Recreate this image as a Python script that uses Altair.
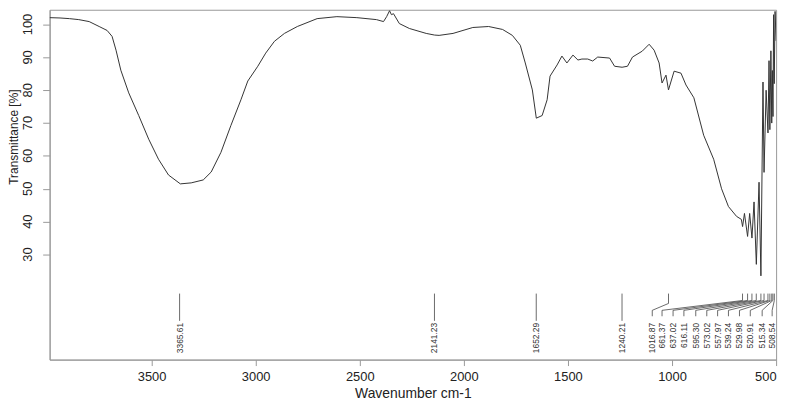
import altair as alt
import pandas as pd

# Spectrum (wavenumber cm-1, transmittance %)
wn = [3990, 3940, 3895, 3850, 3800, 3752, 3714, 3690, 3671, 3648,
      3610, 3562, 3514, 3467, 3419, 3362, 3310, 3252, 3214, 3167,
      3119, 3071, 3038, 2990, 2952, 2910, 2862, 2800, 2705, 2610,
      2514, 2420, 2386, 2371, 2357, 2348, 2338, 2310, 2262, 2181,
      2141, 2119, 2052, 1957, 1881, 1814, 1767, 1729, 1705, 1671,
      1652, 1624, 1600, 1586, 1552, 1529, 1505, 1476, 1452, 1433,
      1405, 1381, 1357, 1300, 1276, 1240, 1214, 1190, 1143, 1110,
      1086, 1062, 1048, 1029, 1017, 990, 957, 933, 895, 848,
      800, 762, 729, 690, 667, 661, 652, 637, 627, 616,
      606, 595, 582, 573, 563, 558, 548, 539, 534, 530,
      525, 521, 518, 515, 512, 509, 505, 500]
trans = [102.1, 102.0, 101.8, 101.5, 100.9, 99.4, 98.2, 96.4, 92.2, 86.1,
         79.2, 72.3, 65.1, 59.0, 54.2, 51.5, 51.8, 52.7, 55.1, 61.1,
         69.3, 77.1, 82.8, 87.3, 91.3, 94.9, 97.3, 99.4, 101.8, 102.4,
         102.1, 101.5, 100.9, 102.4, 104.2, 103.0, 103.3, 100.3, 98.8, 97.3,
         96.8, 96.7, 97.3, 99.1, 99.4, 98.5, 96.7, 93.7, 88.3, 80.1,
         71.5, 72.3, 77.1, 84.3, 87.7, 90.4, 88.3, 90.7, 89.2, 89.5,
         89.5, 88.9, 90.1, 89.8, 87.3, 87.0, 87.3, 90.1, 91.9, 94.0,
         92.2, 88.3, 82.2, 84.6, 80.1, 85.8, 85.2, 81.6, 77.7, 66.3,
         59.0, 50.0, 44.6, 41.6, 40.7, 38.5, 42.5, 35.5, 42.5, 35.0,
         46.0, 27.0, 52.0, 23.5, 82.5, 55.0, 80.0, 67.0, 89.0, 68.0,
         92.0, 70.0, 86.0, 72.0, 103.0, 82.0, 104.0, 95.0]

# Peak picks
peak_wn = [3365.61, 2141.23, 1652.29, 1240.21, 1016.87, 661.37, 637.02, 616.11,
           595.30, 573.02, 557.97, 539.24, 529.98, 520.91, 515.34, 508.54]
peak_text = ["3365.61", "2141.23", "1652.29", "1240.21", "1016.87", "661.37", "637.02",
             "616.11", "595.30", "573.02", "557.97", "539.24", "529.98", "520.91",
             "515.34", "508.54"]
label_wn = [3365.61, 2141.23, 1652.29, 1240.21, 1095, 1048, 995, 943,
            886, 833, 781, 729, 676, 624, 567, 519]

x_ticks = [500, 1000, 1500, 2000, 2500, 3000, 3500]
y_ticks = [30, 40, 50, 60, 70, 80, 90, 100]

# leader geometry levels (in transmittance units)
TOP, ELBOW, ELBOW_LONG, FAN, STUB, SIMPLE_END, TEXT_Y = 18.1, 16.0, 15.1, 13.0, 11.2, 9.8, 9.2

segs = []
for i, (p, l) in enumerate(zip(peak_wn, label_wn)):
    if p == l:
        segs.append({"x": p, "x2": p, "y": TOP, "y2": SIMPLE_END})
    else:
        e = ELBOW_LONG if i == 4 else ELBOW
        segs.append({"x": p, "x2": p, "y": TOP, "y2": e})
        segs.append({"x": p, "x2": l, "y": e, "y2": FAN})
        segs.append({"x": l, "x2": l, "y": FAN, "y2": STUB})
seg_df = pd.DataFrame(segs)
lab_df = pd.DataFrame({"x": label_wn, "y": [TEXT_Y] * len(label_wn), "label": peak_text})
spec_df = pd.DataFrame({"x": wn, "y": trans})
ytick_df = pd.DataFrame({"y": y_ticks, "label": [str(v) for v in y_ticks]})

xs = alt.Scale(domain=[500, 3990], reverse=True, nice=False, zero=False)
ys = alt.Scale(domain=[-2, 104.5], nice=False, zero=False)

x_axis = alt.Axis(
    values=x_ticks, format="d", title="Wavenumber cm-1", grid=False,
    tickSize=6, labelPadding=5, titlePadding=3, labelFontSize=13, titleFontSize=14,
    titleFontWeight="normal")
y_axis = alt.Axis(
    values=y_ticks, format="d", title="Transmittance [%]", grid=False,
    tickSize=7, labels=False, titleFontSize=12, titleX=-29, titleY=128,
    titleAngle=270, titleAlign="center", titleBaseline="bottom",
    titleFontWeight="normal")

X = alt.X("x:Q", scale=xs, axis=x_axis, title="Wavenumber cm-1")
Y = alt.Y("y:Q", scale=ys, axis=y_axis, title="Transmittance [%]")

line = alt.Chart(spec_df).mark_line(color="#333333", strokeWidth=1, clip=True).encode(
    x=X, y=Y)

rules = alt.Chart(seg_df).mark_rule(color="#444444", strokeWidth=0.8).encode(
    x=X, x2="x2:Q", y=Y, y2="y2:Q")

texts = alt.Chart(lab_df).mark_text(
    angle=270, align="right", baseline="middle", fontSize=8.5, color="#333333",
    font="Liberation Sans",
).encode(x=X, y=Y, text="label:N")

ylabels = alt.Chart(ytick_df).mark_text(
    angle=270, align="center", baseline="bottom", fontSize=13, color="#222222",
    font="Liberation Sans",
).encode(x=alt.value(-15), y=Y, text="label:N")

chart = alt.layer(line, rules, texts, ylabels).properties(
    width=733, height=353,
    padding={"left": 42, "top": 0, "right": 12, "bottom": 42},
    autosize=alt.AutoSizeParams(type="none"),
).configure(font="Liberation Sans", background="white").configure_view(
    stroke="#999999", strokeWidth=1).configure_axis(
    domainColor="#999999", tickColor="#999999", labelColor="#222222",
    titleColor="#222222", labelFont="Liberation Sans", titleFont="Liberation Sans",
    titleFontWeight="normal",
)

chart.save("out.html", embed_options={"renderer": "svg", "actions": False})
